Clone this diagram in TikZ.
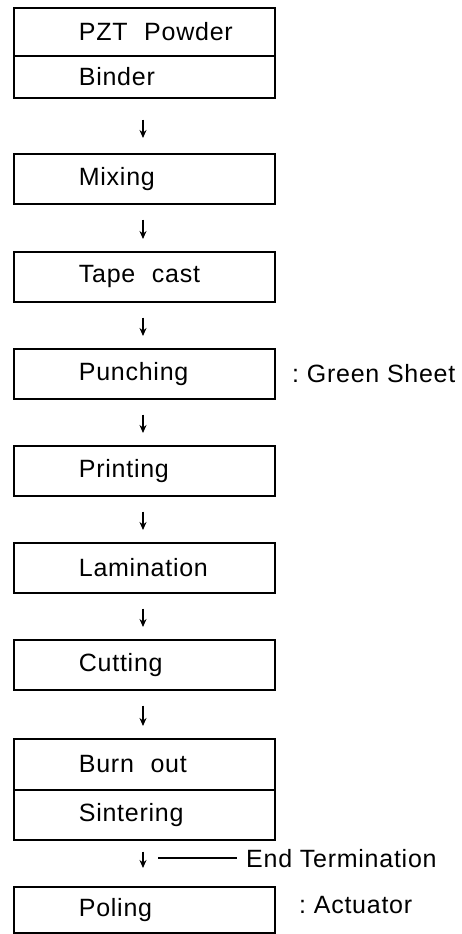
\documentclass[tikz,border=0pt]{standalone}
\usepackage{fontspec}
\setmainfont[LetterSpace=3]{Liberation Sans}
\usetikzlibrary{arrows.meta}
\begin{document}
\begin{tikzpicture}[x=1pt,y=-1pt,
  stepbox/.style={draw,line width=1.7pt,minimum width=261pt,text width=131pt,
    inner xsep=65pt,inner ysep=0pt,align=left,anchor=north west,font=\fontsize{25}{25}\selectfont},
  note/.style={anchor=west,inner sep=0pt,font=\fontsize{25}{25}\selectfont},
  flow/.style={line width=1.6pt,-{Stealth[length=8pt,width=7pt]},shorten <=15pt,shorten >=12pt}]
\useasboundingbox (0,0) rectangle (462,934);
\node[stepbox,minimum height=48pt] (pzt) at (13,7) {\mbox{PZT\ \ Powder}};
\node[stepbox,minimum height=42pt] (binder) at (13,55) {Binder};
\node[stepbox,minimum height=50pt] (mix) at (13,153) {Mixing};
\node[stepbox,minimum height=50pt] (tape) at (13,251) {\mbox{Tape\ \ cast}};
\node[stepbox,minimum height=50pt] (punch) at (13,348) {Punching};
\node[stepbox,minimum height=50pt] (print) at (13,445) {Printing};
\node[stepbox,minimum height=50pt] (lam) at (13,542) {Lamination};
\node[stepbox,minimum height=50pt] (cut) at (13,639) {Cutting};
\node[stepbox,minimum height=51pt] (burn) at (13,738) {\mbox{Burn\ \ out}};
\node[stepbox,minimum height=50pt] (sint) at (13,789) {Sintering};
\node[stepbox,minimum height=46pt] (pol) at (13,886) {Poling};
\node[note] (green) at (292,374) {:\ Green Sheet};
\node[note] (act) at (299,905) {:\ Actuator};
\node[note] (endt) at (246,859) {End Termination};
\draw[flow,shorten <=21pt,shorten >=15pt] (binder.south -| 143,0) -- (mix.north -| 143,0);
\draw[flow] (mix.south -| 143,0) -- (tape.north -| 143,0);
\draw[flow] (tape.south -| 143,0) -- (punch.north -| 143,0);
\draw[flow] (punch.south -| 143,0) -- (print.north -| 143,0);
\draw[flow] (print.south -| 143,0) -- (lam.north -| 143,0);
\draw[flow] (lam.south -| 143,0) -- (cut.north -| 143,0);
\draw[flow] (cut.south -| 143,0) -- (burn.north -| 143,0);
\draw[flow,shorten <=11pt,shorten >=18pt] (sint.south -| 143,0) -- (pol.north -| 143,0);
\coordinate (tj) at (158,858);
\draw[line width=1.4pt] (tj) -- ([xshift=-9pt]endt.west |- tj);
\end{tikzpicture}
\end{document}
